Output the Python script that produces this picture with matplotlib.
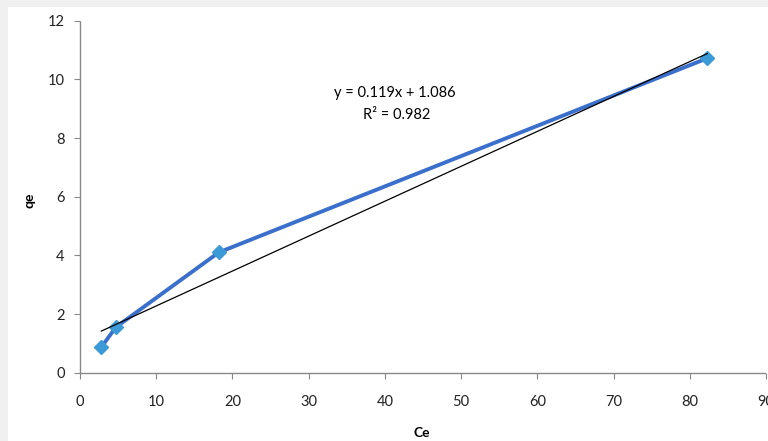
import matplotlib
matplotlib.use("Agg")
import matplotlib.pyplot as plt
import numpy as np

ce = [2.8, 4.7, 18.2, 82.3]
qe = [0.87, 1.55, 4.1, 10.72]
slope, intercept = 0.119, 1.086
eq_text = "y = 0.119x + 1.086"
r2_text = "R² = 0.982"
xticks = [0, 10, 20, 30, 40, 50, 60, 70, 80, 90]
yticks = [0, 2, 4, 6, 8, 10, 12]

plt.rcParams['font.family'] = ['Lato', 'DejaVu Sans']

fig = plt.figure(figsize=(7.68, 4.41), dpi=100)
fig.patch.set_facecolor('#f0f0f0')
bg = fig.add_axes([8/768, 0, 1 - 8/768, 1 - 7/441])
bg.set_facecolor('white')
bg.set_xticks([]); bg.set_yticks([])
for s in bg.spines.values():
    s.set_visible(False)
bg.set_zorder(0)

ax = fig.add_axes([80/768, 1 - 372.7/441, (766 - 80)/768, (372.7 - 20.7)/441])
ax.set_zorder(1)
ax.set_facecolor('none')
ax.set_xlim(0, 90)
ax.set_ylim(0, 12)

xs = np.array([ce[0], ce[-1]])
ax.plot(xs, slope * xs + intercept, color='black', lw=0.9, zorder=3)
ax.plot(ce, qe, color='#3a6fcc', lw=2.8, zorder=2,
        marker='D', markersize=7, markerfacecolor='#3c9ad6', markeredgecolor='#3c9ad6')

for s in ['top', 'right']:
    ax.spines[s].set_visible(False)
for s in ['left', 'bottom']:
    ax.spines[s].set_color('#888888')
    ax.spines[s].set_linestyle((0, (1, 1)))
    ax.spines[s].set_linewidth(1.0)

ax.set_xticks(xticks)
ax.set_yticks(yticks)
ax.tick_params(axis='both', direction='out', length=4, color='#888888', width=0.8,
               labelsize=10.5, labelcolor='#222222')
ax.tick_params(axis='x', pad=12)
ax.tick_params(axis='y', pad=7)

ax.text(0.459, 0.794, eq_text, transform=ax.transAxes, ha='center', va='center', fontsize=10.5)
ax.text(0.461, 0.732, r2_text, transform=ax.transAxes, ha='center', va='center', fontsize=10.5)

fig.text(422/768, 1 - 433/441, 'Ce', ha='center', va='center', fontsize=10, fontweight='bold')
fig.text(30/768, 1 - 200/441, 'qe', ha='center', va='center', fontsize=10, fontweight='bold',
         rotation=90)

fig.savefig('out.png', dpi=100, facecolor=fig.get_facecolor())
